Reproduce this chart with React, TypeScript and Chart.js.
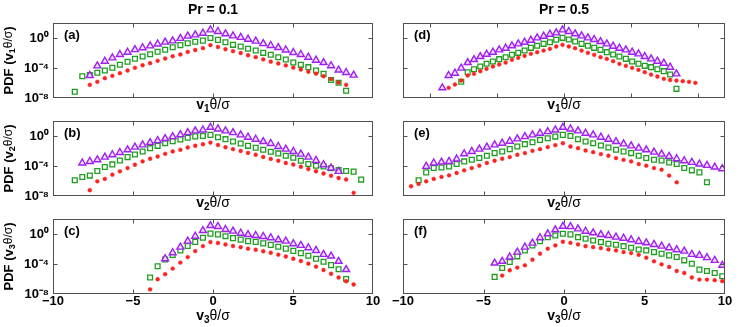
import React, { useEffect, useRef } from 'react';
import { Chart, registerables } from 'chart.js';

Chart.register(...registerables);

// ---------- data (y values are log10 of the PDF) ----------
const xLeft = [-8.64, -8.17, -7.70, -7.23, -6.76, -6.29, -5.82, -5.34, -4.88, -4.40, -3.93, -3.46, -2.99, -2.52, -2.04, -1.58, -1.11, -0.63, -0.16, 0.31, 0.78, 1.25, 1.73, 2.19, 2.67, 3.14, 3.61, 4.08, 4.55, 5.02, 5.49, 5.96, 6.44, 6.91, 7.38, 7.85, 8.32, 8.79, 9.26];
const xD = [-9.07, -8.60, -8.13, -7.66, -7.18, -6.71, -6.24, -5.77, -5.30, -4.83, -4.35, -3.88, -3.41, -2.94, -2.47, -2.00, -1.52, -1.05, -0.58, -0.11, 0.36, 0.83, 1.31, 1.78, 2.25, 2.72, 3.19, 3.66, 4.13, 4.61, 5.08, 5.55, 6.02, 6.49, 6.96, 7.44, 7.91, 8.38, 8.85, 9.32, 9.79];
const xRight = [-9.50, -9.03, -8.56, -8.09, -7.61, -7.14, -6.67, -6.20, -5.73, -5.26, -4.79, -4.31, -3.84, -3.37, -2.90, -2.43, -1.96, -1.49, -1.01, -0.54, -0.07, 0.40, 0.87, 1.34, 1.81, 2.29, 2.76, 3.23, 3.70, 4.17, 4.64, 5.11, 5.59, 6.06, 6.53, 7.00, 7.47, 7.94, 8.41, 8.88, 9.36, 9.83];

const aTri = [null, null, -5.0, -3.71, -3.1, -2.65, -2.2, -1.9, -1.55, -1.3,
  -1.05, -0.8, -0.55, -0.38, -0.05, 0.25, 0.42, 0.64, 1.09, 0.87,
  0.56, 0.29, 0.08, -0.16, -0.42, -0.75, -1.0, -1.27, -1.6, -1.93,
  -2.2, -2.56, -2.96, -3.27, -3.7, -4.27, -4.6, -4.95, null];
const aSq = [-7.17, -5.1, -4.93, -4.64, -4.33, -3.97, -3.57, -3.17, -2.77, -2.47,
  -2.16, -1.84, -1.57, -1.23, -0.95, -0.7, -0.5, -0.35, 0.0, -0.25,
  -0.56, -0.91, -1.13, -1.44, -1.67, -1.98, -2.24, -2.56, -2.87, -3.27,
  -3.58, -3.89, -4.33, -4.78, -5.6, -5.97, -7.04, null, null];
const aDot = [null, null, -6.24, -5.84, -5.36, -5.04, -4.69, -4.33, -3.97, -3.63,
  -3.36, -3.04, -2.73, -2.43, -2.2, -1.85, -1.6, -1.35, -0.95, -1.2,
  -1.5, -1.75, -2.0, -2.3, -2.55, -2.85, -3.15, -3.4, -3.65, -3.95,
  -4.2, -4.5, -4.75, -5.1, -5.49, -5.93, -6.24, null, null];

const bTri = [null, -3.6, -3.39, -3.17, -2.81, -2.5, -2.2, -1.84, -1.48, -1.18,
  -0.87, -0.61, -0.34, -0.08, 0.19, 0.45, 0.68, 0.8, 1.16, 0.94,
  0.68, 0.45, 0.15, -0.16, -0.43, -0.74, -1.0, -1.4, -1.75, -2.06,
  -2.41, -2.81, -3.26, -3.83, -4.27, -4.71, null, null, null];
const bSq = [-5.9, -5.46, -5.28, -4.66, -4.13, -3.79, -3.26, -2.81, -2.46, -2.07,
  -1.62, -1.31, -0.96, -0.69, -0.45, -0.22, -0.05, 0.0, 0.15, -0.16,
  -0.42, -0.73, -1.0, -1.31, -1.57, -1.84, -2.1, -2.32, -2.63, -2.9,
  -3.3, -3.74, -3.96, -4.05, -4.3, -4.53, -4.66, -4.75, -5.81];
const bDot = [null, null, -7.23, -6.04, -5.72, -5.15, -4.71, -4.27, -3.83, -3.39,
  -3.03, -2.73, -2.37, -2.06, -1.84, -1.53, -1.3, -1.1, -0.87, -1.2,
  -1.5, -1.75, -2.0, -2.25, -2.5, -2.8, -3.05, -3.3, -3.6, -3.8,
  -4.1, -4.4, -4.7, -5.0, -5.3, -5.6, -5.8, -7.58, null];

const cTri = [null, null, null, null, null, null, null, null, null, null,
  null, null, -3.3, -2.5, -1.75, -0.95, -0.3, 0.46, 1.13, 1.0,
  0.6, 0.38, 0.11, -0.07, -0.2, -0.33, -0.5, -0.77, -0.95, -1.3,
  -1.52, -1.83, -2.19, -2.72, -2.94, -3.64, -4.74, null, null];
const cSq = [null, null, null, null, null, null, null, null, null, null,
  -5.8, -4.3, -3.4, -2.8, -2.2, -1.6, -1.05, -0.5, 0.05, -0.05,
  -0.3, -0.55, -0.75, -0.95, -1.05, -1.25, -1.45, -1.7, -1.95, -2.25,
  -2.55, -2.9, -3.3, -3.7, -4.15, -4.7, -6.0, null, null];
const cDot = [null, null, null, null, null, null, null, null, null, null,
  -7.39, -6.03, -5.36, -4.61, -3.81, -3.07, -2.28, -1.61, -1.08, -1.2,
  -1.4, -1.6, -1.75, -1.95, -2.1, -2.3, -2.5, -2.75, -3.0, -3.3,
  -3.6, -3.95, -4.35, -4.8, -5.3, -5.8, -6.3, -6.73, null];

const dTri = [-6.64, -5.0, -4.69, -4.02, -3.27, -2.87, -2.47, -2.16, -1.89, -1.58,
  -1.36, -1.04, -0.78, -0.56, -0.29, 0.02, 0.24, 0.51, 0.69, 1.09,
  0.87, 0.56, 0.29, 0.02, -0.2, -0.47, -0.78, -1.09, -1.36, -1.58,
  -1.89, -2.11, -2.47, -2.78, -3.09, -3.36, -3.89, -4.78, null, null, null];
const dSq = [null, null, null, -5.84, -4.56, -4.16, -3.8, -3.44, -3.13, -2.82,
  -2.56, -2.24, -1.98, -1.67, -1.31, -1.04, -0.78, -0.56, -0.24, 0.02,
  -0.2, -0.47, -0.78, -1.04, -1.31, -1.58, -1.89, -2.2, -2.47, -2.78,
  -3.13, -3.44, -3.71, -3.89, -4.16, -4.42, -4.87, -6.78, null, null, null];
const dDot = [null, -6.64, -6.2, -5.67, -5.0, -4.78, -4.42, -4.11, -3.8, -3.53,
  -3.27, -2.91, -2.64, -2.38, -2.11, -1.89, -1.67, -1.44, -1.13, -0.91,
  -1.13, -1.36, -1.67, -1.98, -2.24, -2.56, -2.78, -3.09, -3.44, -3.71,
  -3.98, -4.24, -4.56, -4.87, -5.13, -5.44, -5.6, -5.67, -5.76, -5.84, -5.98];

const eTri = [null, null, -4.05, -3.6, -3.47, -3.39, -3.07, -2.37, -2.06, -1.75,
  -1.48, -1.18, -0.96, -0.69, -0.38, -0.08, 0.15, 0.37, 0.58, 0.81,
  1.16, 0.94, 0.68, 0.37, 0.15, -0.16, -0.43, -0.74, -1.05, -1.31,
  -1.62, -1.84, -2.15, -2.41, -2.72, -3.03, -3.3, -3.52, -3.74, -3.92, -4.14, -4.36];
const eSq = [null, -5.9, -4.85, -4.27, -4.2, -4.05, -3.74, -3.39, -3.17, -2.94,
  -2.63, -2.28, -2.06, -1.75, -1.4, -1.09, -0.83, -0.52, -0.3, -0.08,
  0.15, 0.01, -0.43, -0.74, -0.96, -1.27, -1.53, -1.84, -2.06, -2.28,
  -2.63, -2.94, -3.17, -3.26, -3.52, -3.74, -4.27, -4.58, -4.85, -6.17, null, null];
const eDot = [-6.7, -6.39, -6.04, -5.72, -5.45, -5.24, -4.93, -4.58, -4.27, -3.96,
  -3.6, -3.3, -3.03, -2.81, -2.5, -2.28, -1.97, -1.75, -1.48, -1.22,
  -0.96, -1.4, -1.62, -1.93, -2.15, -2.41, -2.63, -2.94, -3.17, -3.39,
  -3.74, -3.96, -4.27, -4.49, -5.28, -6.17, null, null, null, null, null, null];

const fTri = [null, null, null, null, null, null, null, null, null, null,
  null, -3.87, -3.64, -3.07, -2.41, -1.75, -1.22, -0.5, 0.03, 0.56,
  1.03, 0.99, 0.69, 0.37, 0.16, -0.07, -0.2, -0.42, -0.56, -0.77,
  -0.99, -1.17, -1.39, -1.62, -1.83, -2.09, -2.28, -2.72, -2.85, -3.15, -3.51, -4.17];
const fSq = [null, null, null, null, null, null, null, null, null, null,
  null, -5.72, -4.53, -3.73, -2.98, -2.19, -1.52, -0.95, -0.42, -0.2,
  0.03, -0.05, -0.42, -0.64, -0.86, -1.08, -1.3, -1.44, -1.62, -1.84,
  -2.06, -2.19, -2.41, -2.63, -2.85, -3.07, -3.51, -3.96, -4.75, -4.93, -5.2, -5.64];
const fDot = [null, null, null, null, null, null, null, null, null, null,
  null, null, -5.54, -4.83, -4.48, -4.17, -3.42, -2.62, -1.96, -1.52,
  -1.03, -1.17, -1.39, -1.62, -1.75, -1.88, -2.06, -2.19, -2.41, -2.54,
  -2.77, -3.16, -3.64, -4.04, -4.4, -4.93, -5.2, -5.8, -6.07, -6.07, -6.16, -6.29];

const yTickValues = [-8, -4, 0];
const yTickLabels = ['10\u207B\u2078', '10\u207B\u2074', '10\u2070'];
const xTickValues = [-10, -5, 0, 5, 10];
const xTickLabels = ['\u221210', '\u22125', '0', '5', '10'];
const columnTitles = ['Pr = 0.1', 'Pr = 0.5'];
const panelLetters = ['(a)', '(b)', '(c)', '(d)', '(e)', '(f)'];
const componentIndex = ['1', '2', '3'];

// ---------- layout ----------
const W = 747;
const H = 327;
const FONT = '"Liberation Sans", Arial, Helvetica, sans-serif';
const COL_L = [53, 403];
const COL_R = [373, 725];
const ROW_T = [23, 121, 219];
const PANEL_H = 75;
const Y_AXIS_W = 53;
const X_AXIS_H = 30;
const FRAME = '#505050';

type Spec = {
  idx: number; col: number; row: number; xs: number[];
  tri: (number | null)[]; sq: (number | null)[]; dot: (number | null)[];
  xMin: number; xMax: number;
};

const SPECS: Spec[] = [
  { idx: 0, col: 0, row: 0, xs: xLeft, tri: aTri, sq: aSq, dot: aDot, xMin: -10, xMax: 10 },
  { idx: 1, col: 0, row: 1, xs: xLeft, tri: bTri, sq: bSq, dot: bDot, xMin: -10, xMax: 10 },
  { idx: 2, col: 0, row: 2, xs: xLeft, tri: cTri, sq: cSq, dot: cDot, xMin: -10, xMax: 10 },
  { idx: 3, col: 1, row: 0, xs: xD, tri: dTri, sq: dSq, dot: dDot, xMin: -12, xMax: 12 },
  { idx: 4, col: 1, row: 1, xs: xRight, tri: eTri, sq: eSq, dot: eDot, xMin: -10, xMax: 10 },
  { idx: 5, col: 1, row: 2, xs: xRight, tri: fTri, sq: fSq, dot: fDot, xMin: -10, xMax: 10 },
];

function points(xs: number[], ys: (number | null)[]) {
  const out: { x: number; y: number }[] = [];
  xs.forEach((x, i) => {
    const y = ys[i];
    if (y !== null && y !== undefined) out.push({ x, y });
  });
  return out;
}

type Part = { t: string; font: string; dy?: number };

function drawRich(ctx: CanvasRenderingContext2D, parts: Part[], cx: number, cy: number, rotate: boolean) {
  ctx.save();
  ctx.translate(cx, cy);
  if (rotate) ctx.rotate(-Math.PI / 2);
  let total = 0;
  const widths = parts.map((p) => {
    ctx.font = p.font;
    const w = ctx.measureText(p.t).width;
    total += w;
    return w;
  });
  let x = -total / 2;
  ctx.textBaseline = 'middle';
  ctx.textAlign = 'left';
  ctx.fillStyle = '#000';
  parts.forEach((p, i) => {
    ctx.font = p.font;
    ctx.fillText(p.t, x, p.dy || 0);
    x += widths[i];
  });
  ctx.restore();
}

function makeFramePlugin(spec: Spec) {
  return {
    id: 'frameAndText' + spec.idx,
    afterDraw(chart: any) {
      const ctx: CanvasRenderingContext2D = chart.ctx;
      const a = chart.chartArea;
      const xs = chart.scales.x;
      const ys = chart.scales.y;
      const l = Math.round(a.left) + 0.5;
      const r = Math.round(a.right) - 0.5;
      const t = Math.round(a.top) + 0.5;
      const b = Math.round(a.bottom) - 0.5;
      ctx.save();
      ctx.strokeStyle = FRAME;
      ctx.lineWidth = 1;
      ctx.strokeRect(l, t, r - l, b - t);
      const TL = 4;
      ctx.beginPath();
      xTickValues.forEach((v) => {
        if (v <= spec.xMin || v >= spec.xMax) return;
        const px = Math.round(xs.getPixelForValue(v)) + 0.5;
        ctx.moveTo(px, b); ctx.lineTo(px, b - TL);
        ctx.moveTo(px, t); ctx.lineTo(px, t + TL);
      });
      yTickValues.forEach((v) => {
        if (v <= -8 || v >= 2) return;
        const py = Math.round(ys.getPixelForValue(v)) + 0.5;
        ctx.moveTo(l, py); ctx.lineTo(l + TL, py);
        ctx.moveTo(r, py); ctx.lineTo(r - TL, py);
      });
      ctx.stroke();

      // panel letter
      ctx.fillStyle = '#000';
      ctx.font = `bold 13px ${FONT}`;
      ctx.textAlign = 'left';
      ctx.textBaseline = 'middle';
      ctx.fillText(panelLetters[spec.idx], a.left + 11, a.top + 12.5);

      const cx = (a.left + a.right) / 2;
      const comp = componentIndex[spec.row];
      // x-axis title
      const xTitle: Part[] = [
        { t: 'v', font: `bold 14px ${FONT}` },
        { t: comp, font: `bold 10px ${FONT}`, dy: 4 },
        { t: '\u03B8/\u03C3', font: `14px ${FONT}` },
      ];
      const ty = spec.row === 2 ? a.bottom + 22 : a.bottom + 7.5;
      drawRich(ctx, xTitle, cx, ty, false);

      // y-axis title
      if (spec.col === 0) {
        const yTitle: Part[] = [
          { t: 'PDF (v', font: `bold 13px ${FONT}` },
          { t: comp, font: `bold 9px ${FONT}`, dy: 4 },
          { t: '\u03B8/\u03C3', font: `12px ${FONT}` },
          { t: ')', font: `bold 13px ${FONT}` },
        ];
        drawRich(ctx, yTitle, 9, (a.top + a.bottom) / 2, true);
      }

      // column title
      if (spec.row === 0) {
        ctx.font = `bold 14px ${FONT}`;
        ctx.textAlign = 'center';
        ctx.textBaseline = 'middle';
        ctx.fillText(columnTitles[spec.col], cx, 10);
      }
      ctx.restore();
    },
  };
}

function Panel({ spec }: { spec: Spec }) {
  const ref = useRef<HTMLCanvasElement>(null);
  useEffect(() => {
    if (!ref.current) return;
    const isLeft = spec.col === 0;
    const isBottom = spec.row === 2;
    const L = COL_L[spec.col];
    const R = COL_R[spec.col];
    const T = ROW_T[spec.row];
    const B = T + PANEL_H;
    const tickFont = { family: FONT, weight: 'bold' as const, size: 13 };
    const chart = new Chart(ref.current, {
      type: 'scatter',
      data: {
        datasets: [
          {
            label: 'dots', data: points(spec.xs, spec.dot), pointStyle: 'circle', pointRadius: 1.9,
            backgroundColor: '#ff2020', borderColor: '#ff2020', borderWidth: 0.5, showLine: false,
          },
          {
            label: 'triangles', data: points(spec.xs, spec.tri), pointStyle: 'triangle', pointRadius: 4.0,
            backgroundColor: '#f1e0ff', borderColor: '#a020f0', borderWidth: 1.4, showLine: false,
          },
          {
            label: 'squares', data: points(spec.xs, spec.sq), pointStyle: 'rect', pointRadius: 3.4,
            backgroundColor: '#ffffff', borderColor: '#1f9e1f', borderWidth: 1.3, showLine: false,
          },
        ],
      },
      options: {
        responsive: false,
        animation: false,
        devicePixelRatio: 1,
        events: [],
        layout: {
          padding: {
            left: isLeft ? L - Y_AXIS_W : L,
            right: W - R,
            top: T,
            bottom: isBottom ? H - B - X_AXIS_H : H - B,
          },
        },
        plugins: { legend: { display: false }, tooltip: { enabled: false }, title: { display: false } },
        scales: {
          x: {
            type: 'linear', min: spec.xMin, max: spec.xMax, display: isBottom,
            afterFit: (s: any) => { s.height = isBottom ? X_AXIS_H : 0; },
            afterBuildTicks: (s: any) => { s.ticks = xTickValues.map((v) => ({ value: v })); },
            grid: { display: false, drawTicks: false },
            border: { display: false },
            title: { display: false },
            ticks: {
              autoSkip: false, maxRotation: 0, padding: 0, color: '#000', font: tickFont,
              callback: (v: any) => { const i = xTickValues.indexOf(Number(v)); return i >= 0 ? xTickLabels[i] : ''; },
            },
          },
          y: {
            type: 'linear', min: -8, max: 2, display: isLeft,
            afterFit: (s: any) => { s.width = isLeft ? Y_AXIS_W : 0; },
            afterBuildTicks: (s: any) => { s.ticks = yTickValues.map((v) => ({ value: v })); },
            grid: { display: false, drawTicks: false },
            border: { display: false },
            title: { display: false },
            ticks: {
              autoSkip: false, padding: 4, color: '#000', font: tickFont,
              callback: (v: any) => { const i = yTickValues.indexOf(Number(v)); return i >= 0 ? yTickLabels[i] : ''; },
            },
          },
        },
      } as any,
      plugins: [makeFramePlugin(spec)],
    });
    return () => chart.destroy();
  }, [spec]);
  return (
    <canvas
      ref={ref}
      width={W}
      height={H}
      style={{ position: 'absolute', left: 0, top: 0, width: W, height: H }}
    />
  );
}

export default function App() {
  return (
    <div style={{ position: 'fixed', left: 0, top: 0, width: W, height: H, background: '#fff', overflow: 'hidden' }}>
      {SPECS.map((s) => (
        <Panel key={s.idx} spec={s} />
      ))}
    </div>
  );
}
